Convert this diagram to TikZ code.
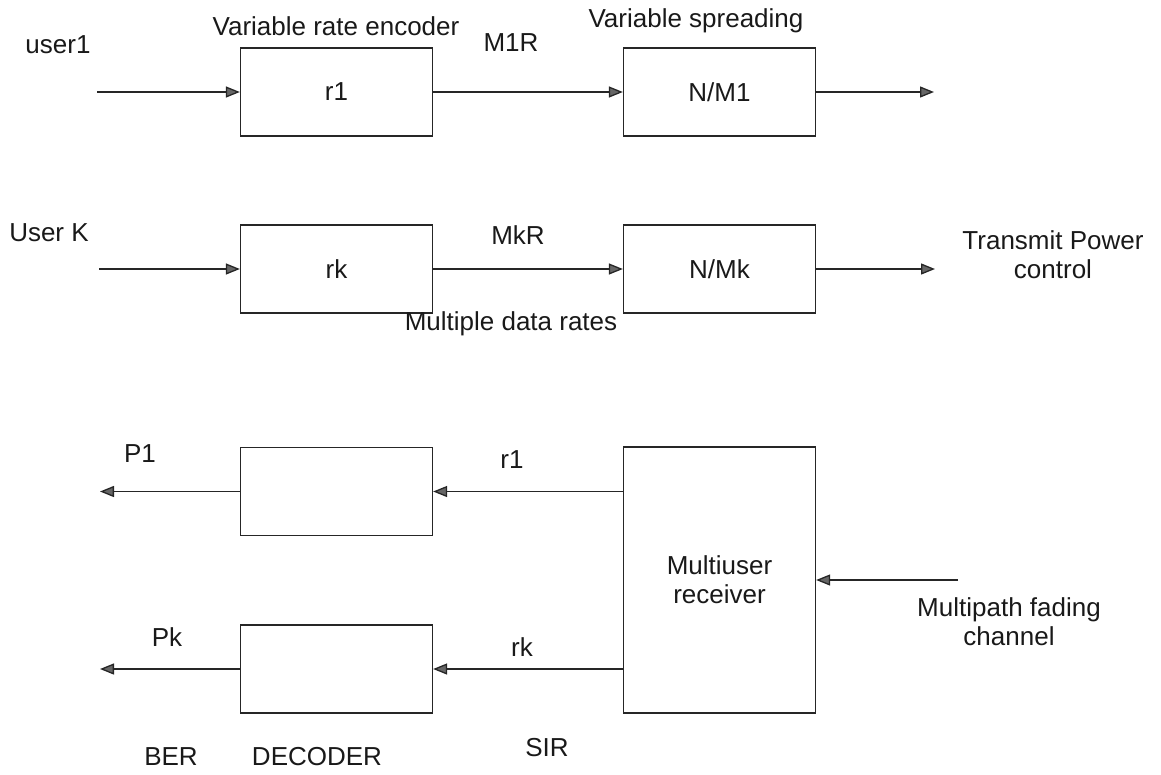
\documentclass[tikz,border=0pt]{standalone}
\usepackage{fontspec}
\setmainfont{Liberation Sans}
\usetikzlibrary{arrows.meta}
\begin{document}
\begin{tikzpicture}[x=1pt,y=-1pt,
  blk/.style={draw=black!85,line width=1.3pt,minimum width=192pt,minimum height=88pt,
    inner sep=0pt,align=center,font=\fontsize{26}{29}\selectfont,text=black!90},
  lbl/.style={font=\fontsize{26}{29}\selectfont,text=black!90,inner sep=0pt,align=center},
  flow/.style={draw=black!85,line width=1.3pt,
    -{Triangle[length=14pt,width=11pt,fill=black!60]}}]
\useasboundingbox (0,0) rectangle (1161,774);

% transmitter blocks
\node[blk] (enc1) at (336.5,92) {r1};
\node[blk] (spr1) at (719.5,92) {N/M1};
\node[blk] (enck) at (336.5,269) {rk};
\node[blk] (sprk) at (719.5,269) {N/Mk};

% receiver blocks
\node[blk] (dec1) at (336.5,491.5) {};
\node[blk] (deck) at (336.5,669) {};
\node[blk,minimum height=266pt] (mur) at (719.5,580) {Multiuser\\receiver};

% free ends of the signal lines
\coordinate (in1) at (97,92);
\coordinate (out1) at (934,92);
\coordinate (ink) at (99,269);
\coordinate (outk) at (935,269);
\coordinate (p1out) at (100,491.5);
\coordinate (pkout) at (100,669);
\coordinate (chan) at (958,580);

% transmit chains
\draw[flow] (in1) -- (enc1.west);
\draw[flow] (enc1.east) -- (spr1.west);
\draw[flow] (spr1.east) -- (out1);
\draw[flow] (ink) -- (enck.west);
\draw[flow] (enck.east) -- (sprk.west);
\draw[flow] (sprk.east) -- (outk);

% receive chains
\draw[flow] (chan) -- (mur.east);
\draw[flow] (mur.west |- dec1.east) -- (dec1.east);
\draw[flow] (mur.west |- deck.east) -- (deck.east);
\draw[flow] (dec1.west) -- (p1out);
\draw[flow] (deck.west) -- (pkout);

% labels
\node[lbl] (user1) at (58,45) {user1};
\node[lbl] (venc) at (336,26) {Variable rate encoder};
\node[lbl] (m1r) at (511,43) {M1R};
\node[lbl] (vspr) at (696,21) {Variable spreading};
\node[lbl] (userk) at (49,233) {User K};
\node[lbl] (mkr) at (518,235) {MkR};
\node[lbl] (mdr) at (511,324) {Multiple data rates};
\node[lbl] (tpc) at (1053,255) {Transmit Power\\control};
\node[lbl] (p1) at (140,454) {P1};
\node[lbl] (r1l) at (512,460) {r1};
\node[lbl] (pk) at (167,637) {Pk};
\node[lbl] (rkl) at (522,647) {rk};
\node[lbl] (ber) at (171,757) {BER};
\node[lbl] (decl) at (317,757) {DECODER};
\node[lbl] (sir) at (547,748) {SIR};
\node[lbl] (mfc) at (1009,622) {Multipath fading\\channel};
\end{tikzpicture}
\end{document}
